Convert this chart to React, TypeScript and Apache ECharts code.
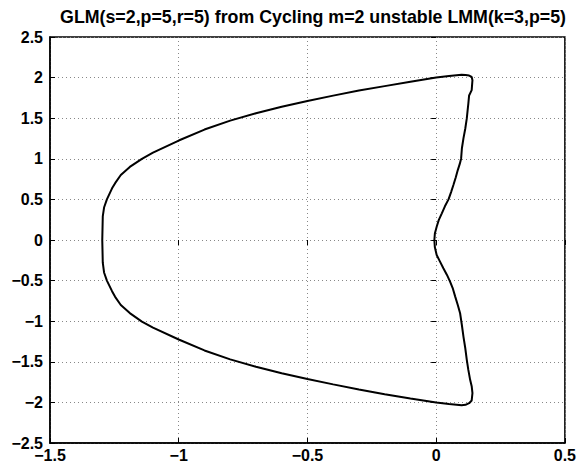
import React, { useEffect, useRef } from "react";
import * as echarts from "echarts";

const titleText = "GLM(s=2,p=5,r=5) from Cycling m=2 unstable LMM(k=3,p=5)";

// Right-hand (wavy) edge, upper half: from the origin up to the top corner
const rightUpperX = [-0.007, -0.005, 0.002, 0.01, 0.022, 0.034, 0.048, 0.058, 0.067, 0.076, 0.084, 0.092, 0.097, 0.1, 0.106, 0.113, 0.119, 0.122, 0.125, 0.128, 0.138, 0.141, 0.138, 0.128, 0.114, 0.099, 0.05];
const rightUpperY = [0, 0.08, 0.164, 0.245, 0.328, 0.415, 0.5, 0.59, 0.677, 0.77, 0.861, 0.94, 1.005, 1.13, 1.251, 1.37, 1.497, 1.59, 1.68, 1.78, 1.845, 1.968, 2.008, 2.025, 2.033, 2.035, 2.02];

// Left arc, upper half: from x=0 at the top over to the leftmost point
const arcUpperX = [0, -0.1, -0.2, -0.3, -0.4, -0.5, -0.6, -0.7, -0.8, -0.9, -1.0, -1.1, -1.143, -1.19, -1.225, -1.247, -1.259, -1.279, -1.29, -1.295, -1.297];
const arcUpperY = [2.0, 1.95, 1.895, 1.84, 1.778, 1.713, 1.64, 1.56, 1.47, 1.36, 1.225, 1.075, 1.0, 0.9, 0.8, 0.7, 0.636, 0.5, 0.4, 0.29, 0];

// Left arc, lower half: from the leftmost point to x=0 at the bottom
const arcLowerX = [-1.295, -1.29, -1.279, -1.259, -1.247, -1.225, -1.19, -1.143, -1.1, -1.0, -0.9, -0.8, -0.7, -0.6, -0.5, -0.4, -0.3, -0.2, -0.1, 0];
const arcLowerY = [-0.28, -0.4, -0.5, -0.63, -0.7, -0.8, -0.9, -1.005, -1.08, -1.225, -1.36, -1.47, -1.56, -1.64, -1.713, -1.778, -1.84, -1.9, -1.952, -2.0];

// Right-hand edge, lower half: from the bottom corner back to the origin
const rightLowerX = [0.05, 0.099, 0.114, 0.128, 0.138, 0.141, 0.138, 0.132, 0.125, 0.119, 0.113, 0.106, 0.1, 0.093, 0.084, 0.074, 0.065, 0.054, 0.042, 0.028, 0.014, 0.002, -0.005, -0.007];
const rightLowerY = [-2.02, -2.035, -2.03, -2.01, -1.976, -1.886, -1.8, -1.722, -1.6, -1.476, -1.33, -1.189, -1.05, -0.902, -0.8, -0.697, -0.6, -0.512, -0.43, -0.348, -0.26, -0.185, -0.09, 0];

const xTicks = { min: -1.5, max: 0.5, interval: 0.5 };
const yTicks = { min: -2.5, max: 2.5, interval: 0.5 };

const fmt = (v: number) => {
  const r = Math.round(v * 100) / 100;
  const s = String(Math.abs(r));
  return r < 0 ? "\u2212" + s : s;
};

const labelStyle = {
  color: "#000",
  fontFamily: "Liberation Sans",
  fontWeight: "bold" as const,
  fontSize: 16,
};

export default function App() {
  const ref = useRef<HTMLDivElement>(null);
  useEffect(() => {
    if (!ref.current) return;
    const chart = echarts.init(ref.current, undefined, { renderer: "svg" });
    const xs = [...rightUpperX, ...arcUpperX, ...arcLowerX, ...rightLowerX];
    const ys = [...rightUpperY, ...arcUpperY, ...arcLowerY, ...rightLowerY];
    const data = xs.map((x, i) => [x, ys[i]]);
    const splitLine = { show: true, lineStyle: { color: "#888", type: [1, 3] as any, width: 1 } };
    const tick = { show: true, inside: true, length: 5, lineStyle: { color: "#000", width: 1 } };
    chart.setOption({
      animation: false,
      backgroundColor: "#fff",
      title: {
        text: titleText,
        left: 308,
        top: 3,
        textAlign: "center",
        textStyle: { ...labelStyle, fontSize: 17.8 },
      },
      grid: {
        left: 50,
        right: 13,
        top: 37,
        bottom: 24,
        show: true,
        borderColor: "#000",
        borderWidth: 1.5,
        backgroundColor: "transparent",
      },
      xAxis: [
        {
          type: "value",
          ...xTicks,
          axisLine: { show: true, onZero: false, lineStyle: { color: "#000", width: 1.5 } },
          axisTick: tick,
          splitLine,
          axisLabel: { ...labelStyle, margin: 4, formatter: fmt },
        },
        {
          type: "value",
          position: "top",
          ...xTicks,
          axisLine: { show: false },
          axisTick: tick,
          splitLine: { show: false },
          axisLabel: { show: false },
        },
      ],
      yAxis: [
        {
          type: "value",
          ...yTicks,
          axisLine: { show: true, onZero: false, lineStyle: { color: "#000", width: 1.5 } },
          axisTick: tick,
          splitLine,
          axisLabel: { ...labelStyle, margin: 7, formatter: fmt },
        },
        {
          type: "value",
          position: "right",
          ...yTicks,
          axisLine: { show: false },
          axisTick: tick,
          splitLine: { show: false },
          axisLabel: { show: false },
        },
      ],
      series: [
        {
          type: "line",
          data,
          showSymbol: false,
          symbol: "none",
          smooth: false,
          lineStyle: { color: "#000", width: 2 },
          xAxisIndex: 0,
          yAxisIndex: 0,
        },
      ],
    });
    return () => chart.dispose();
  }, []);
  return (
    <div
      ref={ref}
      style={{ position: "fixed", left: 0, top: 0, width: 579, height: 467 }}
    />
  );
}
